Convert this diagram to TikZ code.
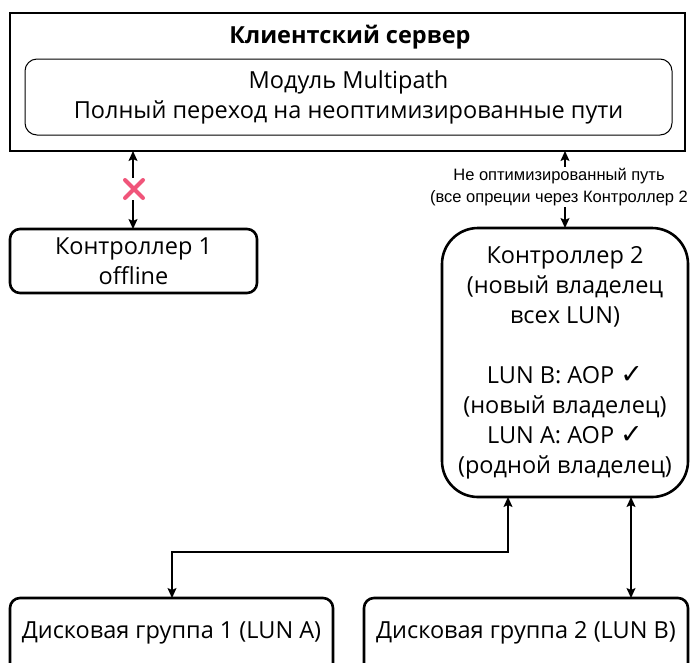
\documentclass[tikz,border=0pt]{standalone}
\usepackage{fontspec}
\setmainfont{Open Sans}
\newfontfamily\lblfont{Liberation Sans}
\newfontfamily\symfont{DejaVu Sans}
\usetikzlibrary{arrows.meta,calc}
\definecolor{xred}{HTML}{F0557A}
\tikzset{
  thickbox/.style={draw, line width=2.6pt, rounded corners=10pt, align=center, inner sep=0pt},
  thinbox/.style={draw, line width=1pt, rounded corners=12pt, align=center, inner sep=0pt},
  conn/.style={line width=1.3pt, {Stealth[length=10pt,width=9pt,inset=2pt]}-{Stealth[length=10pt,width=9pt,inset=2pt]}},
  txt/.style={font=\fontsize{23.5}{30}\selectfont}
}
\newcommand{\chk}{{\symfont\fontsize{27}{30}\selectfont ✓}}
\begin{document}
\begin{tikzpicture}[x=1pt,y=-1pt]
\useasboundingbox (0,0) rectangle (695,662);
\clip (0,0) rectangle (695,662);
% client server
\node[draw, line width=2.8pt, minimum width=675pt, minimum height=138pt, inner sep=0pt] (srv) at (347.5,82) {};
\node[font=\fontsize{23.5}{26}\selectfont\bfseries] (title) at (350,37) {Клиентский сервер};
\node[thinbox, txt, minimum width=647pt, minimum height=76pt] (mp) at (348.5,97)
  {Модуль Multipath\\Полный переход на неоптимизированные пути};
% controller 1
\node[thickbox, txt, minimum width=247pt, minimum height=64pt] (c1) at (133.5,261)
  {Контроллер 1\\offline};
% controller 2
\node[thickbox, txt, rounded corners=36pt, minimum width=246pt, minimum height=269pt] (c2) at (565,362.5)
  {Контроллер 2\\(новый владелец\\всех LUN)\\[30pt]LUN B: AOP \chk\\(новый владелец)\\LUN A: AOP \chk\\(родной владелец)};
% disk groups
\node[thickbox, minimum width=323pt, minimum height=80pt] (g1) at (171.5,638) {};
\node[txt] (g1t) at (171.5,633) {Дисковая группа 1 (LUN A)};
\node[thickbox, minimum width=324pt, minimum height=80pt] (g2) at (526,638) {};
\node[txt] (g2t) at (526,633) {Дисковая группа 2 (LUN B)};
% connectors
\coordinate (a1) at (133,151);
\coordinate (a2) at (133,229);
\draw[conn] (a1) -- (a2);
\node[fill=white, minimum width=26pt, minimum height=22pt, inner sep=0pt] (xm) at (134,189) {};
\draw[xred, line width=4pt, line cap=round] ($(xm.center)+(-9,-9)$) -- ($(xm.center)+(9,9)$)
  ($(xm.center)+(-9,9)$) -- ($(xm.center)+(9,-9)$);
\coordinate (b1) at (565,151);
\coordinate (b2) at (565,228);
\draw[conn] (b1) -- (b2);
\node[fill=white, font=\lblfont\fontsize{16.5}{22}\selectfont, align=center, inner sep=1pt] (lbl) at (559,187)
  {Не оптимизированный путь\\(все опреции через Контроллер 2};
\coordinate (e1) at (508,497);
\coordinate (e2) at (172,598);
\draw[conn] (e1) -- (508,552) -- (172,552) -- (e2);
\coordinate (f1) at (631,497);
\coordinate (f2) at (631,598);
\draw[conn] (f1) -- (f2);
\end{tikzpicture}
\end{document}
